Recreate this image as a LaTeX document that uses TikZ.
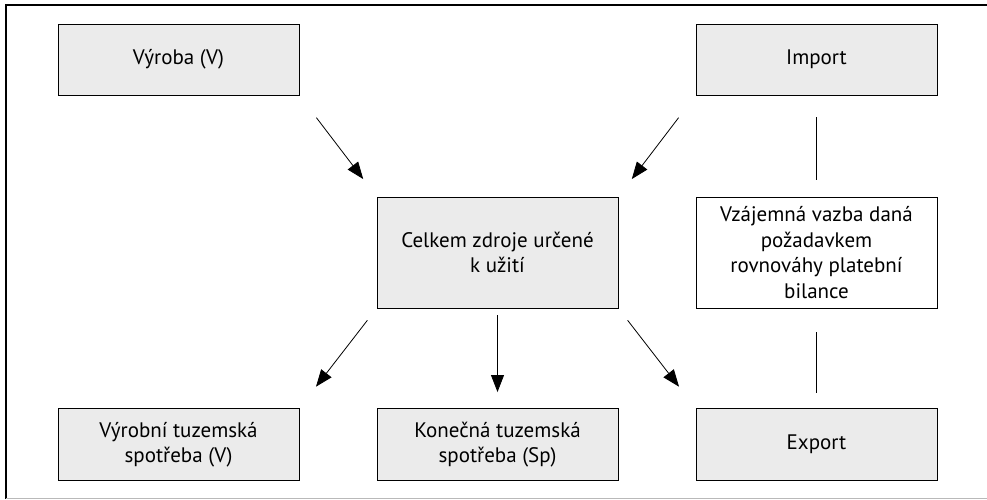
\documentclass[tikz,border=0pt]{standalone}
\usepackage{fontspec}
\setmainfont{PT Sans}
\usetikzlibrary{arrows.meta}

\definecolor{boxgray}{HTML}{EBEBEB}
\tikzset{
	box/.style={draw, line width=0.9pt, fill=boxgray, minimum width=241pt, align=center, font=\fontsize{21}{25.5}\selectfont, inner sep=0pt},
	arr/.style={-{Triangle[length=17pt, width=13pt]}, line width=0.8pt},
	link/.style={line width=0.8pt}
}

\begin{document}
\begin{tikzpicture}[x=1pt, y=-1pt]
		\useasboundingbox (0,0) rectangle (987,499);
		\draw [line width=1.2pt] (987,5) -- (6,5) -- (6,498.5);
		\draw [gray!55, line width=1.2pt] (6,498.5) -- (987,498.5);

		\node [box, minimum height=71pt] (vyroba) at (178.5,59.5) {Výroba (V)};
		\node [box, minimum height=71pt] (import) at (816.5,59.5) {Import};
		\node [box, minimum height=111pt] (celkem) at (497.5,252.5) {Celkem zdroje určené\\k užití};
		\node [box, minimum height=111pt, fill=white] (vazba) at (816.5,252.5) {Vzájemná vazba daná\\požadavkem\\rovnováhy platební\\bilance};
		\node [box, minimum height=72pt] (vyrobni) at (178.5,444.5) {Výrobní tuzemská\\spotřeba (V)};
		\node [box, minimum height=72pt] (konecna) at (497.5,444.5) {Konečná tuzemská\\spotřeba (Sp)};
		\node [box, minimum height=72pt] (export) at (816.5,444.5) {Export};

		\draw [arr, shorten <=28pt, shorten >=22pt] (vyroba.south east) -- (celkem.north west);
		\draw [arr, shorten <=28pt, shorten >=22pt] (import.south west) -- (celkem.north east);
		\draw [arr, shorten <=15pt, shorten >=27pt] (celkem.south west) -- (vyrobni.north east);
		\draw [arr, shorten <=7pt, shorten >=16pt] (celkem.south) -- (konecna.north);
		\draw [arr, shorten <=15pt, shorten >=27pt] (celkem.south east) -- (export.north west);
		\draw [link, shorten <=22pt, shorten >=17pt] (import.south) -- (vazba.north);
		\draw [link, shorten <=24pt, shorten >=15pt] (vazba.south) -- (export.north);
	\end{tikzpicture}
\end{document}
